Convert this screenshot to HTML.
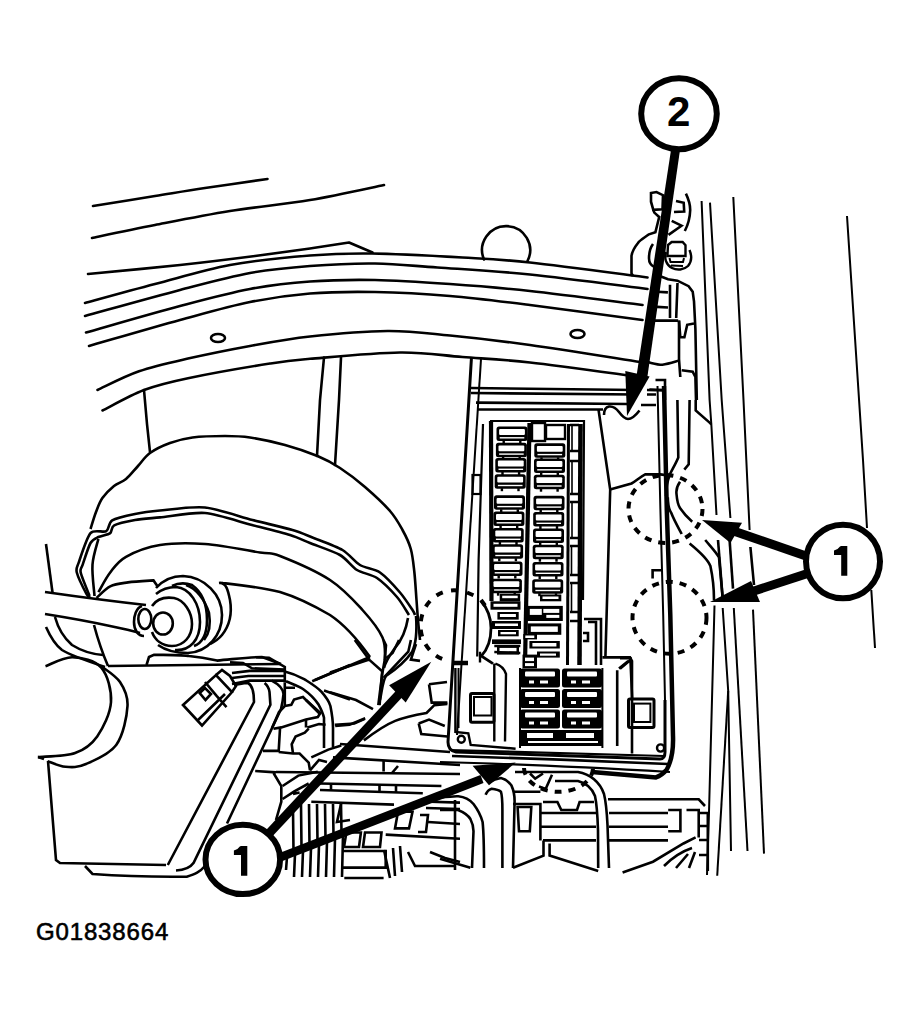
<!DOCTYPE html>
<html><head><meta charset="utf-8">
<style>
html,body{margin:0;padding:0;background:#fff;width:920px;height:1016px;overflow:hidden}
svg{display:block;position:absolute;left:0;top:0}
.t{position:absolute;left:36px;top:920px;font-family:"Liberation Sans",sans-serif;font-size:24px;color:#000;letter-spacing:0.85px;-webkit-text-stroke:0.6px #000;line-height:1}
</style></head><body>
<svg width="920" height="1016" viewBox="0 0 920 1016">
<g fill="none" stroke="#000" stroke-width="2.6" stroke-linecap="round" stroke-linejoin="round">
<!-- COWL / TOP LINES -->
<path id="A" d="M93.0,206.0 C103.3,204.3 136.3,199.0 155.0,196.0 C173.7,193.0 186.2,190.8 205.0,188.0 C223.8,185.2 257.1,180.5 267.5,179.0"/>
<path id="B" d="M92.0,238.0 C102.5,235.8 132.0,229.5 155.0,225.0 C178.0,220.5 204.2,215.2 230.0,211.0 C255.8,206.8 284.3,204.3 310.0,200.0 C335.7,195.7 371.7,187.5 384.0,185.0"/>
<path id="C" d="M88.0,274.0 C103.3,272.5 152.2,268.0 180.0,265.0 C207.8,262.0 233.3,258.8 255.0,256.0 C276.7,253.2 294.3,250.8 310.0,248.5 C325.7,246.2 342.5,243.5 349.0,242.5 L372.5,252.5"/>
<path id="D" d="M85.0,303.0 C96.7,299.8 130.8,290.3 155.0,284.0 C179.2,277.7 204.2,269.8 230.0,265.0 C255.8,260.2 286.3,257.4 310.0,255.5 C333.7,253.6 346.6,253.2 372.0,253.5 C397.4,253.8 436.2,256.0 462.5,257.5 C488.8,259.0 499.2,259.2 530.0,262.5 C560.8,265.8 627.9,275.0 647.5,277.5"/>
<path id="E" d="M85.0,316.0 C100.8,311.7 152.5,297.2 180.0,290.0 C207.5,282.8 228.3,277.0 250.0,273.0 C271.7,269.0 289.2,267.6 310.0,266.0 C330.8,264.4 353.8,263.2 375.0,263.5 C396.2,263.8 411.7,265.7 437.5,267.5 C463.3,269.3 495.0,270.9 530.0,274.5 C565.0,278.1 627.9,286.6 647.5,289.0"/>
<path id="F" d="M86.0,332.5 C101.7,328.1 152.7,313.2 180.0,306.0 C207.3,298.8 228.3,293.1 250.0,289.0 C271.7,284.9 289.2,283.0 310.0,281.5 C330.8,280.0 351.7,279.6 375.0,280.0 C398.3,280.4 424.2,282.2 450.0,284.0 C475.8,285.8 497.9,287.5 530.0,291.0 C562.1,294.5 623.8,302.7 642.5,305.0"/>
<path id="G" d="M89.0,346.0 C104.2,341.7 153.2,327.3 180.0,320.0 C206.8,312.7 228.3,306.4 250.0,302.0 C271.7,297.6 289.2,295.2 310.0,293.5 C330.8,291.8 351.7,291.6 375.0,292.0 C398.3,292.4 424.2,293.8 450.0,296.0 C475.8,298.2 497.9,301.0 530.0,305.0 C562.1,309.0 623.8,317.5 642.5,320.0"/>
<path id="H" d="M97.5,390.0 C104.4,386.9 123.9,376.5 139.0,371.3 C154.1,366.1 169.5,362.8 188.0,358.6 C206.5,354.4 229.7,349.7 250.0,346.0 C270.3,342.3 287.1,339.0 310.0,336.5 C332.9,334.0 364.2,331.2 387.5,331.0 C410.8,330.8 426.2,333.2 450.0,335.5 C473.8,337.8 498.3,340.6 530.0,345.0 C561.7,349.4 621.7,359.2 640.0,362.0"/>
<path id="I" d="M102.5,410.5 C109.4,407.1 129.8,395.4 144.0,390.0 C158.2,384.6 167.0,382.6 188.0,378.2 C209.0,373.8 249.7,366.7 270.0,363.5 C290.3,360.3 288.3,360.6 310.0,358.8 C331.7,357.0 374.6,352.8 400.0,352.5 C425.4,352.2 440.8,355.3 462.5,357.0 C484.2,358.7 500.4,359.2 530.0,362.5 C559.6,365.8 621.7,374.6 640.0,377.0"/>
<ellipse cx="218" cy="338" rx="7" ry="4"/>
<ellipse cx="577.5" cy="334" rx="7" ry="4"/>
<!-- ball -->
<path d="M484,259.5 A24,24 0 1 1 527.5,261"/>
<!-- posts -->
<path d="M144,390 L147,424 L150,452"/>
<path d="M324,357.5 L320,400 L317,456"/>
<path d="M341,357.5 L339,400 L335,465"/>
</g>
<!-- BOOSTER DOME -->
<g id="dome" fill="none" stroke="#000" stroke-width="2.6">
<path d="M90.5,529.0 C91.4,526.2 94.0,517.2 96.0,512.0 C98.0,506.8 99.4,502.3 102.4,498.0 C105.4,493.7 110.1,489.2 114.0,486.0 C117.9,482.8 122.0,482.3 126.0,479.0 C130.0,475.7 134.0,470.3 138.0,466.0 C142.0,461.7 144.7,456.8 150.0,453.0 C155.3,449.2 162.9,445.6 170.0,443.0 C177.1,440.4 183.3,438.7 192.5,437.5 C201.7,436.3 215.4,436.0 225.0,436.0 C234.6,436.0 240.0,436.0 250.0,437.5 C260.0,439.0 273.8,441.9 285.0,445.0 C296.2,448.1 308.3,452.2 317.5,456.0 C326.7,459.8 332.1,462.8 340.0,468.0 C347.9,473.2 356.7,479.8 365.0,487.0 C373.3,494.2 383.8,503.8 390.0,511.0 C396.2,518.2 399.0,523.7 402.5,530.0 C406.0,536.3 408.8,541.9 410.8,549.0 C412.8,556.1 413.4,564.0 414.4,572.5 C415.3,581.0 415.9,592.1 416.5,600.0 C417.1,607.9 417.4,613.3 418.0,620.0 C418.6,626.7 419.7,636.7 420.0,640.0"/>
<path d="M90.5,598.0 C90.0,597.5 88.4,597.6 86.6,594.2 C84.8,590.8 77.9,576.7 76.8,572.5 C75.7,568.3 76.9,568.0 78.7,562.7 C80.5,557.4 86.8,537.3 90.5,533.1 C94.2,528.9 103.4,532.9 106.3,531.2 C109.2,529.5 108.4,522.7 112.2,520.4 C116.0,518.1 128.6,515.3 135.0,514.0 C141.4,512.7 150.7,511.4 160.0,510.5 C169.3,509.6 192.7,506.2 205.0,507.5 C217.3,508.8 240.8,517.0 252.5,520.0 C264.2,523.0 284.5,527.7 292.5,530.0 C300.5,532.3 305.8,534.8 312.5,537.5 C319.2,540.2 336.2,546.3 342.5,550.0 C348.8,553.7 355.0,562.0 360.0,565.0 C365.0,568.0 374.7,568.8 380.0,572.5 C385.3,576.2 395.7,587.5 400.0,592.5 C404.3,597.5 410.5,607.0 412.5,610.0 C414.5,613.0 414.7,614.3 415.0,615.0"/>
<path d="M89.6,596.0 C88.4,592.9 81.6,576.7 80.7,572.5 C79.8,568.3 81.4,568.5 82.7,564.6 C84.0,560.7 88.4,546.7 90.5,543.0 C92.6,539.3 95.8,538.3 98.4,537.0 C101.0,535.7 108.1,534.7 110.2,533.1 C112.3,531.5 110.9,527.0 114.2,525.3 C117.5,523.6 128.9,521.1 135.0,520.0 C141.1,518.9 150.7,518.3 160.0,517.4 C169.3,516.5 192.7,512.0 205.0,513.0 C217.3,514.0 240.7,522.1 252.0,525.0 C263.3,527.9 282.3,532.6 290.0,535.0 C297.7,537.4 303.3,540.3 310.0,543.0 C316.7,545.7 333.7,551.4 340.0,555.0 C346.3,558.6 352.1,566.9 357.0,570.0 C361.9,573.1 371.7,574.4 377.0,578.0 C382.3,581.6 392.7,592.1 397.0,597.0 C401.3,601.9 407.4,612.6 409.0,615.0"/>
<path d="M98.4,539.0 C97.4,543.3 93.2,555.1 92.5,564.6 C91.8,574.1 94.2,590.8 94.5,596.0"/>
<path d="M98.4,592.2 C100.4,588.9 105.6,578.4 110.2,572.5 C114.8,566.6 117.7,561.4 126.0,556.8 C134.3,552.2 146.8,547.1 160.0,545.0 C173.2,542.9 188.3,542.8 205.0,544.0 C221.7,545.2 247.5,550.5 260.0,552.5 C272.5,554.5 268.3,551.4 280.0,556.0 C291.7,560.6 316.2,571.0 330.0,580.0 C343.8,589.0 353.8,600.4 362.5,610.0 C371.2,619.6 378.8,629.2 382.5,637.5 C386.2,645.8 384.6,656.2 385.0,660.0"/>
<path d="M222,583 C240,585 260,587 280,592 C300,598 318,608 330,615 C345,625 358,640 370,657"/>
<path d="M408,618 C406,630 402,640 395,648 C390,655 386,660 384,668"/>
<path d="M416,616 C417,630 417,642 412,652 C405,662 395,670 386,676 C383,680 382,690 380,700"/>
<path d="M370,657 L315,680"/>
</g>
<!-- MASTER CYL / RESERVOIR -->
<g id="mc" fill="none" stroke="#000" stroke-width="2.6">
<path d="M46,544 L52.5,592.5"/>
<path d="M45,592 C80,597 110,601 146,605"/>
<path d="M45,614 C70,618 92,622 110,626 C120,628 130,630 140,633"/>
<path d="M96.5,598.0 C98.8,596.0 105.0,588.9 110.2,586.3 C115.5,583.7 120.8,583.4 128.0,582.4 C135.2,581.4 149.2,580.7 153.5,580.4 L157.5,586.3"/>
<ellipse cx="163" cy="623.5" rx="9.8" ry="11"/>
<path d="M152,606 C158,597 167,597 174,598 C184,600 192,612 192,624 C192,636 184,646 172,646 C162,646 155,640 152,632"/>
<path d="M156,594 C162,589 168,587 176,587 C190,588 200,604 200,622 C200,640 190,651 175,650"/>
<path d="M172,586 C180,582 186,583 192,585 C202,592 207,605 207,620 C207,635 202,643 194,646"/>
<path d="M186,585 C196,588 205,600 209,613 C211,625 209,634 204,640"/>
<path d="M156,588 C165,578 175,576 183,576 C205,577 222,595 222,615 C222,635 208,652 188,653 C175,653 165,650 158,645"/>
<path d="M219,583 C226,582 228,590 230,600 C232,612 230,625 222,635 C218,640 214,642 210,644"/>
<ellipse cx="144.8" cy="619" rx="6.5" ry="10"/>
<path d="M142,606 C136,608 134,616 134,622 C134,630 138,636 144,636"/>
<!-- small lines down-left -->
<path d="M46,627 C50,636 54,644 62,650 C70,655 90,662 105,667"/>
<path d="M55,617 C58,628 64,638 72,645 C80,650 90,654 103,655"/>
<path d="M94,625 C98,640 102,652 108,666"/>
<!-- cylinder arcs -->
<path d="M45.5,666.2 C50.0,664.7 63.1,657.0 72.4,657.2 C81.7,657.4 94.9,660.1 101.3,667.6 C107.7,675.1 111.7,690.5 111.0,702.0 C110.3,713.5 103.2,727.9 97.2,736.4 C91.2,744.9 85.0,749.5 75.1,753.0 C65.2,756.5 44.1,756.4 37.9,757.1"/>
<path d="M101.3,666.2 C104.4,668.8 115.6,675.4 120.0,682.0 C124.4,688.6 128.1,695.5 127.5,706.0 C126.9,716.5 123.3,735.0 116.4,744.7 C109.5,754.4 94.5,760.3 86.0,764.0 C77.5,767.7 71.9,767.3 65.5,766.8 C59.1,766.3 50.6,762.1 47.6,761.2"/>
<path d="M38,757 L44,759 M48,761 L56,860 L60,863 L166,865"/>
<path d="M108,666 L280,664"/>
<path d="M146.5,665 L149,657 L154,654.7 C170,655 185,655 189,656 C200,657 210,659 217,660.6 C235,659 250,657 262,657 L281,664"/>
<!-- reservoir slants -->
<path d="M234,685 C240,684 244,683 248,683 C252,685 254,690 254,702 L167.8,865"/>
<path d="M264.6,683 C267,685 269,688 269.5,692 L270.4,704.8 L193.5,863 C190,868 185,870 176,870.5"/>
<path d="M271.7,680.7 C278,684 283,688 283.5,694 C283,700 282,705 281,709 L227,823.5"/>
<path d="M85,866 L92.5,874 C120,876 160,877 186.7,876.7 C195,874 200,872 205,866"/>
<!-- connector -->
<path d="M183,705 L216,675 L232,692 L202,725.5 Z"/>
<path d="M205,682 L216.6,695.9 L226.5,707.2 M197,721 L225,694 M199.7,693 L205,688 L211,694 L205.5,700 Z"/>
<path d="M216,675 L222,670 L230,676 L236,686 L232,692"/>
<!-- hoses from connector -->
<path d="M230,662.4 L243,663 L252,668.3 L284.8,669.6"/>
<path d="M232,673 L249.6,670.9 L284.8,670.9"/>
<path d="M232,678 L248.3,676 L284.8,676"/>
<path d="M232,684 L249.6,680.6 L284.8,680.6"/>
<path d="M256,657.2 L269,657.8 L284.8,667 L284.8,682.6"/>
<path d="M284.8,671.5 C295,674 300,677 305.6,680 C312,684 318,688 321.3,691.7 C326,697 329,701 330.4,706 C332,714 333,720 333,728 L333,747"/>
<path d="M286,681.3 C292,684 298,686 303,689 C310,694 315,699 318.7,704.8 C321,709 323,713 324,717.8 L324,748"/>
<path d="M312.2,681.3 L350,665 M324,690.4 L350,699.6"/>
</g>
<!-- RIGHT SIDE -->
<g id="right" fill="none" stroke="#000" stroke-width="2.6">
<!-- fender lines -->
<path d="M701.6,201 L709.6,400 L711.3,424 L716.5,515" stroke-width="2"/>
<path d="M710,202.6 L721.7,400 L730.4,518" stroke-width="2"/>
<path d="M733.3,197 L743.5,400 L749.6,530" stroke-width="2"/>
<path d="M847,216 L863,460 L867,528" stroke-width="2"/>
<path d="M871.3,590 L875,648" stroke-width="2"/>
<path d="M695.7,400 L695.7,410.4 L709.6,422.6 L711.3,424.3"/>
<!-- lines below right arrows -->
<path d="M689.6,543.5 C700,552 708,560 710.4,566 C713,578 714,590 714,600"/>
<path d="M705.2,540 C712,548 716,552 719,557.4 L722.6,597.4"/>
<path d="M718,540 L722.6,597"/>
<path d="M729.6,540 L733,588.7"/>
<path d="M750.4,547 L754,585"/>
<path d="M714.5,605.5 L709,812 L707,875" stroke-width="2"/>
<path d="M722.7,608 L728.2,691 L731,851" stroke-width="2"/>
<path d="M728.2,691 L717.2,875.7" stroke-width="2"/>
<path d="M733.8,608 L747.5,851" stroke-width="2"/>
<path d="M753,609.6 L764,853.6" stroke-width="2"/>
<!-- cable S-curves right of housing -->
<path d="M677.4,400 L678.3,457.4 C676,463 673,468 670,474 C667,482 666,490 666,496"/>
<path d="M689.6,400 L688.7,464.3 L684.3,469.6"/>
<path d="M680,481.7 C677,486 676,490 676.5,494 C677,500 678,505 680,508 C684,514 688,518 692.2,521.7"/>
<path d="M667.8,497.4 C668,505 669,510 671.3,513 C674,520 678,527 681.7,534"/>
<!-- housing right edge -->
<path d="M657.5,386 L660.4,510 L663.2,615 L665,700" stroke-width="2"/>
<path d="M664,386 L666.8,510 L670.3,615 L673,736 C673.5,750 671,762 666.5,770 C663,774 660,776 656,777.4 L592,772" stroke-width="4.5"/>
<path d="M652.6,578.5 L652.6,570.3 L661.5,570.3"/>
<path d="M620,658.3 L630.4,658.3 L632.2,700 M620,668.7 L630.4,660"/>
<!-- hinge bracket -->
<path d="M651,193 L656.5,192 L663,195.2 L662.5,209.3 L653.3,209.9 L651,201.7 Z"/>
<path d="M653.3,209.9 L654.3,212.6 L659.2,217 L655.4,232.2 L649,234.3 C644,238 640,240 638,243 C634,248 632,252 631.5,256 L631.5,273.5 L633,276"/>
<path d="M653,244 C650,248 649,254 649,258.3 C649,262 650,265 654.3,267"/>
<path d="M676,201 L683.7,202.8 L684.2,211.5 L674,212"/>
<path d="M671.7,220.8 L681.5,225.7 L668.5,234.9"/>
<path d="M685.9,193.6 C689,200 690.2,205 690.2,210 C690,217 689,223 684.8,231"/>
<path d="M666,252 C664,258 666,265 672,268 C677,270.5 684,270 688,266 C691.5,262 692,256 689.5,250" stroke-width="2.4"/>
<path d="M668,245 L671.7,242 L682.6,242 L685.5,245.2 L685.5,256 L667.4,256 Z" stroke-width="2.4"/>
<path d="M669.5,258 L670.5,262 L683,262 L684,258 M671,265.5 L683,266" stroke-width="2"/>
<!-- plate below bolt -->
<path d="M661,276.5 L668,279.3 L677.5,280.7 L688.6,286.2 L692.7,291.7 L694,301.3 L695.4,329 L696.8,400"/>
<path d="M677.5,283 L676.2,318 M670,284.8 L670,318"/>
<path d="M656.9,291.7 L667.9,292.4 M656.9,306.9 L668,307.5 M654,320.6 L678.2,320.6"/>
<path d="M679,320.6 L680.3,337.2 L684.4,337.2 L687.2,324.8 L694,323.4"/>
<path d="M679,320.6 L679,359.2 L680.3,377"/>
<path d="M647.2,362 C652,363 657,364.7 662.4,364.7 C668,364 674,362 679,360.6"/>
<path d="M681.7,370.3 L692.7,371.6 L695.4,377 L696,400"/>
<path d="M655.5,380 L665,380 L665,400 M649.3,389.5 L665,390"/>
<!-- hook under arrow tip -->
<path d="M604,415 C604,410 606,407 609,406.5 C613,406 616,408 619,412 C622,416 625,419 628,419 C632,419 636,415 639.5,410.5" stroke-width="2.6"/>
<!-- dashed circles -->
<g stroke-width="4" stroke-dasharray="7 7" stroke-linecap="butt">
<ellipse cx="665.5" cy="509" rx="37" ry="34"/>
<ellipse cx="669.5" cy="617.8" rx="37" ry="36"/>
<path d="M458,590.5 A33,35 0 0 0 450,661" stroke-dasharray="7 8.5"/>
<path d="M467,592.5 L474,595.5 M481,600 L485,605.5"/>
<path d="M524,768 A34,24 0 0 0 593,767"/>
</g>
</g>
<!-- LOWER REGION -->
<g id="lower" fill="none" stroke="#000" stroke-width="2.6">
<!-- casting shapes -->
<path d="M284.8,682.6 L284.8,706 L291.3,704.8 L294,699.6 L303,697 L320,714 M284.8,687.8 L295,687.8 M284.8,706 L279,712 L272,728"/>
<path d="M273.5,728.7 L281.3,727.4 L306,719.6 L317.8,717 L320.4,713 L306,700"/>
<path d="M306,719.6 L306,727.4 M307.4,727.4 L319,724 L325.6,724.8"/>
<path d="M280,728.7 L278.7,750.9 L263,750.9"/>
<path d="M278.7,752 L293,753.5 L299.6,753.5 L308.7,762.6 L310,770.4"/>
<path d="M293,753.5 L291.7,744.3 L295.6,736.5 L304.8,732.6 L308.7,728.7"/>
<path d="M273.5,773 L281.3,786 L281.3,801.7 L276,820"/>
<path d="M282.6,786 L298.3,775.6 L317.8,771.7"/>
<path d="M282.6,799 L294.3,791.3 L308.7,783.5 M293,794 L299.6,792.6"/>
<path d="M310,770.4 L319,760 L327,762"/>
<path d="M311.3,757.4 L328.3,749.6 L341.3,745.6"/>
<path d="M334.8,724.8 L354.3,723.5 L364.8,718.9"/>
<path d="M330,672.6 L369.1,659.6 L354.8,640 M369.1,659.6 L382.2,671.3 L379.6,705.2"/>
<path d="M383.5,640 L386,645.2 L384.8,659.6 L382.2,674 L378.3,705.2"/>
<path d="M399,640 L392.6,653 L386,658.3 M410.9,640 L408.3,651.7 L383.5,677.8 M416,644 L410.9,659.6 L420,660.9"/>
<path d="M330,692.2 L356,700 L373,709.1"/>
<path d="M335.2,726 L349.6,724.8 L365.2,718.3"/>
<path d="M363.9,740.4 C375,732 385,725 395.2,720.9 C405,717 415,715 426.5,713 L434.3,705.2 L447.4,703.9"/>
<path d="M429,684.3 L431.7,702.6 L447.4,702.6 M429,684.3 L447,682"/>
<path d="M418.7,723.5 L421.3,734 L447.4,736.5 M418.7,723.5 L429,719.6 L444.8,726"/>
<path d="M255.2,771 L276,772.4"/>
<!-- horizontal rails -->
<path d="M340,744 L450,752"/>
<path d="M333,757.4 L460,765"/>
<path d="M276,772 L460,774"/>
<path d="M320,783.5 L441.4,786"/>
<path d="M320,790 L422.8,793.3"/>
<path d="M311.3,801.7 L394,804.6"/>
<path d="M383.6,761 L383.6,771.6 M398,766 L392,773 M379.5,785 L379.5,791.2 M396,785 L396,792.2 M331,784 L331,791"/>
<path d="M422.8,801.5 L460,802.6 M426,808 L460,809 M428,822 L460,824 M385.7,834.6 L460,838.7"/>
<path d="M398,811.8 L412.5,811.8 L409,828.4 L395,828.4 Z"/>
<path d="M420,815 L428,815 L426,832 L418,832"/>
<path d="M346.4,832.5 L360.9,832.5 L359,847 L344,847 Z M365,832.5 L381.5,832.5 L380,847 L363,847 Z"/>
<path d="M342.3,851 L385.7,851 L385.7,867.6 L342.3,867.6"/>
<path d="M344.3,878 L383.6,878"/>
<path d="M384,850 L390,878 M393,848 L395,876 M400,846 L402,872"/>
<path d="M408,852 L415,866 L455,866 M430,852 L445,858 L460,862"/>
<path d="M455,800 L455,870"/>
<!-- comb between arrows -->
<path d="M293,809.4 L293.5,850.7 M301,804.0 L301.5,847.6 M309,804.0 L309.5,844.5 M317,804.0 L317.5,841.4 M325,804.0 L325.5,838.2 M333,804.0 L333.5,835.1 M341,804.0 L341.5,832.0"/>
<path d="M287,857.0 L286,870 M295,853.9 L294,877 M303,850.8 L302,877 M311,847.7 L310,877 M319,844.6 L318,877 M327,841.5 L326,877 M335,838.3 L334,877 M343,835.2 L342,877"/>
<path d="M341,804 L337,822 L350,820"/>
<!-- below fuse box: hoses -->
<path d="M440,797.8 C450,796.5 455,796 458.3,796.3 C465,797 470,800 473.5,804 C478,810 481,816 482.6,822 C484,835 484,850 484,868"/>
<path d="M440,810 L458,810 C463,812 468,815 470.4,819 C472.5,823 473.5,827 473.5,831.3 L472,868"/>
<path d="M488.7,782.6 C493,780 497,778.5 500.9,778 C505,779 509,782 511.5,785.6 C513.5,790 514.6,795 514.6,801 L513,868"/>
<path d="M485.6,794.8 C487,791 489,789.5 491.7,788.7 C495,789 499,790 500.9,791.7 C502,795 502.4,800 502.4,810 L502.4,868"/>
<path d="M515,772 L578,772 C590,774 600,782 604,794 C606,802 607,815 607.5,825 L609,868"/>
<path d="M555,781 L578,781 C586,783 592,788 595,796 C597,805 597.5,815 598,830 L598.2,868"/>
<!-- housing bottom outer -->

<!-- heart shapes under fuse box -->
<path d="M530,773.5 L535.2,778.7 L543,773.5 M539,786.5 L545.6,789 L552,774.8 M543,802 L557.4,802 L561.3,810 L577,810 L579.6,802 L594,802"/>
<!-- horizontal bars -->
<path d="M608,799.3 L698.7,799.3 L705,806"/>
<path d="M513,791.7 L540.4,791.7 M513,804 L540.4,804 L540.4,840.4"/>
<path d="M540.4,813 L596,813 M609,813 L668,813"/>
<path d="M540.4,826.7 L596,826.7 M609,826.7 L668,826.7"/>
<path d="M543,840.4 L596,840.4 M609,840.4 L668,840.4"/>
<path d="M517.6,807 L531.3,807 L529.8,831.3 L519,831.3 Z"/>
<path d="M668.2,810 L680.4,810 L680.4,831.3 L668.2,831.3 M686.5,810 L698.7,810 L698.7,837.4"/>
<path d="M440,858.7 L470.4,867.8"/>
<path d="M513,867.8 L543.5,855.6 L543.5,840.4 M549.6,843.5 L549.6,855.6 L598.2,870.9"/>
<path d="M622.6,872.4 L653,861.7 L683.5,843.5 L695.6,837.4"/>
<path d="M664,866 C672,858 680,852 692,848 M676,868 L688,854 M689,868 L695,852"/>
<path d="M698.7,813 L707.8,813 L707.8,870.9 M699,826 L707,826 M699,840 L707,840 M699,855 L707,855"/>
</g>
<!--FUSE--><g id="fusebox" fill="none" stroke="#000" stroke-width="2.6">
<path d="M471.5,357 L448,742 C448,748 451,751 456,752 L660,759 C663,759 665,757 665,752 L665,700" stroke-width="3"/>
<path d="M481,359 L457,735" stroke-width="2"/>
<path d="M471,388 L636,390 M471,393 L636,394.5 M647,390 L666,390.5 M647,394.5 L656,394.5"/>
<path d="M476,402.6 L627,404 M641,405 L656,405"/>
<path d="M478,409.5 L599,409.5 L603,409.5"/>
<path d="M598.5,409.5 L610.2,489.6 L605.4,657.4"/>
<path d="M610,489.6 L631.5,483.5 C636,481 640,477 645.2,474.4 L660.4,474.4 L672,476"/>
<path d="M490,421 L584,421 L583,600" stroke-width="2.2"/>
<path d="M483,424 L478.6,560 L477.2,656.5" stroke-width="2.2"/>
<path d="M491,421 L491.5,601" stroke-width="4.2"/>
<path d="M529.5,423 L525,666" stroke-width="4.2"/>
<path d="M568.5,424 L567.5,665" stroke-width="3"/>
<path d="M580.5,424 L579.5,665" stroke-width="4.5"/>
<path d="M570,425 L579,425 M570,451 L579,451 M570,461 L579,461 M570,494 L579,494 M570,502 L579,502 M570,538 L579,538 M570,546 L579,546 M570,575 L579,575 M570,583 L579,583 M570,612 L579,612 M570,621 L579,621" stroke-width="2.4"/>
<path d="M572,425 L572,451 M572,461 L572,494 M572,502 L572,538 M571.5,546 L571.5,575 M571.5,583 L571.5,612" stroke-width="1.6"/>
<path d="M584,619 L601,619 L601,665 M588,622 L596,622 L596,665 M583,633 L588,633 L588,641 L583,641"/>
<rect x="472.5" y="475" width="8" height="19" stroke-width="2.2"/>
<rect x="496.5" y="426.5" width="31" height="14.5" rx="2.5" fill="#000" stroke="none"/>
<rect x="499.1" y="429.1" width="25.8" height="5.8" rx="1" fill="#fff" stroke="none"/>
<rect x="499.7" y="437.1" width="24.6" height="1.4" fill="#fff" stroke="none"/>
<rect x="502.5" y="440.5" width="2.4" height="3" fill="#000" stroke="none"/><rect x="519.1" y="440.5" width="2.4" height="3" fill="#000" stroke="none"/>
<rect x="495.9" y="442.8" width="31" height="14.5" rx="2.5" fill="#000" stroke="none"/>
<rect x="498.5" y="445.4" width="25.8" height="5.8" rx="1" fill="#fff" stroke="none"/>
<rect x="499.1" y="453.4" width="24.6" height="1.4" fill="#fff" stroke="none"/>
<rect x="501.9" y="456.8" width="2.4" height="3" fill="#000" stroke="none"/><rect x="518.5" y="456.8" width="2.4" height="3" fill="#000" stroke="none"/>
<rect x="534.3" y="443.3" width="31" height="14.5" rx="2.5" fill="#000" stroke="none"/>
<rect x="536.9" y="445.9" width="25.8" height="5.8" rx="1" fill="#fff" stroke="none"/>
<rect x="537.5" y="453.9" width="24.6" height="1.4" fill="#fff" stroke="none"/>
<rect x="540.3" y="457.3" width="2.4" height="3" fill="#000" stroke="none"/><rect x="556.9" y="457.3" width="2.4" height="3" fill="#000" stroke="none"/>
<rect x="495.3" y="458.0" width="31" height="14.5" rx="2.5" fill="#000" stroke="none"/>
<rect x="497.9" y="460.6" width="25.8" height="5.8" rx="1" fill="#fff" stroke="none"/>
<rect x="498.5" y="468.6" width="24.6" height="1.4" fill="#fff" stroke="none"/>
<rect x="501.3" y="472.0" width="2.4" height="3" fill="#000" stroke="none"/><rect x="517.9" y="472.0" width="2.4" height="3" fill="#000" stroke="none"/>
<rect x="534.0" y="458.5" width="31" height="14.5" rx="2.5" fill="#000" stroke="none"/>
<rect x="536.6" y="461.1" width="25.8" height="5.8" rx="1" fill="#fff" stroke="none"/>
<rect x="537.2" y="469.1" width="24.6" height="1.4" fill="#fff" stroke="none"/>
<rect x="540.0" y="472.5" width="2.4" height="3" fill="#000" stroke="none"/><rect x="556.6" y="472.5" width="2.4" height="3" fill="#000" stroke="none"/>
<rect x="494.7" y="474.2" width="31" height="14.5" rx="2.5" fill="#000" stroke="none"/>
<rect x="497.3" y="476.8" width="25.8" height="5.8" rx="1" fill="#fff" stroke="none"/>
<rect x="497.9" y="484.8" width="24.6" height="1.4" fill="#fff" stroke="none"/>
<rect x="500.7" y="488.2" width="2.4" height="3" fill="#000" stroke="none"/><rect x="517.3" y="488.2" width="2.4" height="3" fill="#000" stroke="none"/>
<rect x="533.8" y="474.7" width="31" height="14.5" rx="2.5" fill="#000" stroke="none"/>
<rect x="536.4" y="477.3" width="25.8" height="5.8" rx="1" fill="#fff" stroke="none"/>
<rect x="537.0" y="485.3" width="24.6" height="1.4" fill="#fff" stroke="none"/>
<rect x="539.8" y="488.7" width="2.4" height="3" fill="#000" stroke="none"/><rect x="556.4" y="488.7" width="2.4" height="3" fill="#000" stroke="none"/>
<rect x="494.0" y="495.3" width="31" height="14.5" rx="2.5" fill="#000" stroke="none"/>
<rect x="496.6" y="497.9" width="25.8" height="5.8" rx="1" fill="#fff" stroke="none"/>
<rect x="497.2" y="505.9" width="24.6" height="1.4" fill="#fff" stroke="none"/>
<rect x="500.0" y="509.3" width="2.4" height="3" fill="#000" stroke="none"/><rect x="516.6" y="509.3" width="2.4" height="3" fill="#000" stroke="none"/>
<rect x="533.5" y="495.8" width="31" height="14.5" rx="2.5" fill="#000" stroke="none"/>
<rect x="536.1" y="498.4" width="25.8" height="5.8" rx="1" fill="#fff" stroke="none"/>
<rect x="536.7" y="506.4" width="24.6" height="1.4" fill="#fff" stroke="none"/>
<rect x="539.5" y="509.8" width="2.4" height="3" fill="#000" stroke="none"/><rect x="556.1" y="509.8" width="2.4" height="3" fill="#000" stroke="none"/>
<rect x="493.4" y="511.5" width="31" height="14.5" rx="2.5" fill="#000" stroke="none"/>
<rect x="496.0" y="514.1" width="25.8" height="5.8" rx="1" fill="#fff" stroke="none"/>
<rect x="496.6" y="522.1" width="24.6" height="1.4" fill="#fff" stroke="none"/>
<rect x="499.4" y="525.5" width="2.4" height="3" fill="#000" stroke="none"/><rect x="516.0" y="525.5" width="2.4" height="3" fill="#000" stroke="none"/>
<rect x="533.2" y="512.0" width="31" height="14.5" rx="2.5" fill="#000" stroke="none"/>
<rect x="535.8" y="514.6" width="25.8" height="5.8" rx="1" fill="#fff" stroke="none"/>
<rect x="536.4" y="522.6" width="24.6" height="1.4" fill="#fff" stroke="none"/>
<rect x="539.2" y="526.0" width="2.4" height="3" fill="#000" stroke="none"/><rect x="555.8" y="526.0" width="2.4" height="3" fill="#000" stroke="none"/>
<rect x="492.7" y="528.0" width="31" height="14.5" rx="2.5" fill="#000" stroke="none"/>
<rect x="495.3" y="530.6" width="25.8" height="5.8" rx="1" fill="#fff" stroke="none"/>
<rect x="495.9" y="538.6" width="24.6" height="1.4" fill="#fff" stroke="none"/>
<rect x="498.7" y="542.0" width="2.4" height="3" fill="#000" stroke="none"/><rect x="515.3" y="542.0" width="2.4" height="3" fill="#000" stroke="none"/>
<rect x="533.0" y="528.5" width="31" height="14.5" rx="2.5" fill="#000" stroke="none"/>
<rect x="535.6" y="531.1" width="25.8" height="5.8" rx="1" fill="#fff" stroke="none"/>
<rect x="536.2" y="539.1" width="24.6" height="1.4" fill="#fff" stroke="none"/>
<rect x="539.0" y="542.5" width="2.4" height="3" fill="#000" stroke="none"/><rect x="555.6" y="542.5" width="2.4" height="3" fill="#000" stroke="none"/>
<rect x="492.1" y="544.2" width="31" height="14.5" rx="2.5" fill="#000" stroke="none"/>
<rect x="494.7" y="546.8" width="25.8" height="5.8" rx="1" fill="#fff" stroke="none"/>
<rect x="495.3" y="554.8" width="24.6" height="1.4" fill="#fff" stroke="none"/>
<rect x="498.1" y="558.2" width="2.4" height="3" fill="#000" stroke="none"/><rect x="514.7" y="558.2" width="2.4" height="3" fill="#000" stroke="none"/>
<rect x="532.7" y="544.7" width="31" height="14.5" rx="2.5" fill="#000" stroke="none"/>
<rect x="535.3" y="547.3" width="25.8" height="5.8" rx="1" fill="#fff" stroke="none"/>
<rect x="535.9" y="555.3" width="24.6" height="1.4" fill="#fff" stroke="none"/>
<rect x="538.7" y="558.7" width="2.4" height="3" fill="#000" stroke="none"/><rect x="555.3" y="558.7" width="2.4" height="3" fill="#000" stroke="none"/>
<rect x="491.5" y="561.5" width="31" height="14.5" rx="2.5" fill="#000" stroke="none"/>
<rect x="494.1" y="564.1" width="25.8" height="5.8" rx="1" fill="#fff" stroke="none"/>
<rect x="494.7" y="572.1" width="24.6" height="1.4" fill="#fff" stroke="none"/>
<rect x="497.5" y="575.5" width="2.4" height="3" fill="#000" stroke="none"/><rect x="514.1" y="575.5" width="2.4" height="3" fill="#000" stroke="none"/>
<rect x="532.5" y="562.0" width="31" height="14.5" rx="2.5" fill="#000" stroke="none"/>
<rect x="535.1" y="564.6" width="25.8" height="5.8" rx="1" fill="#fff" stroke="none"/>
<rect x="535.7" y="572.6" width="24.6" height="1.4" fill="#fff" stroke="none"/>
<rect x="538.5" y="576.0" width="2.4" height="3" fill="#000" stroke="none"/><rect x="555.1" y="576.0" width="2.4" height="3" fill="#000" stroke="none"/>
<rect x="490.9" y="578.7" width="31" height="14.5" rx="2.5" fill="#000" stroke="none"/>
<rect x="493.5" y="581.3" width="25.8" height="5.8" rx="1" fill="#fff" stroke="none"/>
<rect x="494.1" y="589.3" width="24.6" height="1.4" fill="#fff" stroke="none"/>
<rect x="496.9" y="592.7" width="2.4" height="3" fill="#000" stroke="none"/><rect x="513.5" y="592.7" width="2.4" height="3" fill="#000" stroke="none"/>
<rect x="532.2" y="579.2" width="31" height="14.5" rx="2.5" fill="#000" stroke="none"/>
<rect x="534.8" y="581.8" width="25.8" height="5.8" rx="1" fill="#fff" stroke="none"/>
<rect x="535.4" y="589.8" width="24.6" height="1.4" fill="#fff" stroke="none"/>
<rect x="538.2" y="593.2" width="2.4" height="3" fill="#000" stroke="none"/><rect x="554.8" y="593.2" width="2.4" height="3" fill="#000" stroke="none"/>
<rect x="532" y="423" width="13" height="18" stroke-width="2.4"/>
<rect x="546" y="425" width="19" height="14" stroke-width="2.4"/>
<rect x="499.7" y="593.7" width="20.5" height="7.6" fill="#000" stroke="none"/>
<rect x="502.2" y="595.7" width="15.5" height="2.5" fill="#fff" stroke="none"/>
<rect x="490.5" y="601.3" width="30" height="8.4" fill="#000" stroke="none"/>
<rect x="493.5" y="603.8" width="24" height="3" fill="#fff" stroke="none"/>
<rect x="497.4" y="612" width="21.3" height="7.6" fill="#000" stroke="none"/>
<rect x="499.9" y="614" width="16" height="3" fill="#fff" stroke="none"/>
<rect x="492" y="621" width="29" height="8" fill="#000" stroke="none"/>
<rect x="495" y="623.5" width="23" height="2.5" fill="#fff" stroke="none"/>
<rect x="498" y="630" width="20.7" height="6.3" fill="#000" stroke="none"/>
<rect x="500.5" y="632" width="15.5" height="2.3" fill="#fff" stroke="none"/>
<rect x="492" y="639.4" width="29" height="4.6" fill="#000" stroke="none"/>
<rect x="497" y="645.4" width="22" height="9.2" fill="#000" stroke="none"/>
<rect x="499.5" y="647.9" width="17" height="3.5" fill="#fff" stroke="none"/>
<rect x="540" y="594.5" width="21.3" height="6.8" fill="#000" stroke="none"/>
<rect x="542.5" y="596.5" width="16" height="2.5" fill="#fff" stroke="none"/>
<rect x="526.3" y="605.9" width="36.5" height="15.1" fill="#000" stroke="none"/>
<rect x="529.8" y="608.9" width="12" height="6" fill="#fff" stroke="none"/>
<rect x="543.3" y="608.9" width="16" height="4" fill="#fff" stroke="none"/>
<rect x="546.3" y="614.9" width="13" height="3" fill="#fff" stroke="none"/>
<rect x="527.8" y="623.4" width="33.5" height="11.4" fill="#000" stroke="none"/>
<rect x="530.8" y="626.4" width="27" height="5.5" fill="#fff" stroke="none"/>
<rect x="523.3" y="634" width="13.7" height="5.4" fill="#000" stroke="none"/>
<rect x="525.3" y="635.5" width="9" height="2.5" fill="#fff" stroke="none"/>
<rect x="529.4" y="641" width="30.4" height="7.5" fill="#000" stroke="none"/>
<rect x="532.4" y="643" width="24" height="3.5" fill="#fff" stroke="none"/>
<rect x="537" y="651.5" width="22.8" height="6.1" fill="#000" stroke="none"/>
<rect x="540" y="653.5" width="16" height="2.2" fill="#fff" stroke="none"/>
<rect x="522.5" y="654.6" width="14.5" height="13.7" fill="#000" stroke="none"/>
<rect x="525.0" y="657.6" width="9" height="3.5" fill="#fff" stroke="none"/>
<rect x="525.0" y="663.1" width="9" height="3" fill="#fff" stroke="none"/>
<path d="M481.3,601 C487,608 491,616 491,628 C491,640 487,650 481.3,656 L493,663.6" stroke-width="2.8"/>
<path d="M495.5,663.6 C500,665 504,668 506,674 L505,741.6 M494.3,663.6 L494.3,741.6" stroke-width="2.4"/>
<path d="M480,651.8 L480,662.4 M494.3,646 L520.3,646 M494.3,652 L520.3,653" stroke-width="2.4"/>
<path d="M453,663 L468,663" stroke-width="4.5"/>
<path d="M455.4,668 L455.4,732 L468.3,733.3 L470.7,745 L515.6,748.7" stroke-width="2.4"/>
<path d="M458.5,668 L458.5,728" stroke-width="2"/>
<rect x="470.5" y="693.5" width="23.5" height="28.8" rx="1.5" stroke-width="3"/><rect x="474" y="697" width="17.5" height="18.5" stroke-width="2"/>
<circle cx="461.3" cy="739.2" r="3.5" stroke-width="2.4"/>
<rect x="520" y="668.5" width="40" height="19" rx="2.5" fill="#000" stroke="none"/>
<rect x="525" y="671.5" width="30" height="5" rx="1" fill="#fff" stroke="none"/>
<rect x="529" y="680.5" width="5" height="3" fill="#fff" stroke="none"/><rect x="540" y="680.5" width="8" height="3" fill="#fff" stroke="none"/>
<rect x="562" y="668.5" width="40" height="19" rx="2.5" fill="#000" stroke="none"/>
<rect x="567" y="671.5" width="30" height="5" rx="1" fill="#fff" stroke="none"/>
<rect x="571" y="680.5" width="5" height="3" fill="#fff" stroke="none"/><rect x="582" y="680.5" width="8" height="3" fill="#fff" stroke="none"/>
<rect x="520" y="689" width="40" height="19" rx="2.5" fill="#000" stroke="none"/>
<rect x="525" y="692" width="30" height="5" rx="1" fill="#fff" stroke="none"/>
<rect x="529" y="701" width="5" height="3" fill="#fff" stroke="none"/><rect x="540" y="701" width="8" height="3" fill="#fff" stroke="none"/>
<rect x="562" y="689" width="40" height="19" rx="2.5" fill="#000" stroke="none"/>
<rect x="567" y="692" width="30" height="5" rx="1" fill="#fff" stroke="none"/>
<rect x="571" y="701" width="5" height="3" fill="#fff" stroke="none"/><rect x="582" y="701" width="8" height="3" fill="#fff" stroke="none"/>
<rect x="520" y="709.5" width="40" height="19" rx="2.5" fill="#000" stroke="none"/>
<rect x="525" y="712.5" width="30" height="5" rx="1" fill="#fff" stroke="none"/>
<rect x="529" y="721.5" width="5" height="3" fill="#fff" stroke="none"/><rect x="540" y="721.5" width="8" height="3" fill="#fff" stroke="none"/>
<rect x="562" y="709.5" width="40" height="19" rx="2.5" fill="#000" stroke="none"/>
<rect x="567" y="712.5" width="30" height="5" rx="1" fill="#fff" stroke="none"/>
<rect x="571" y="721.5" width="5" height="3" fill="#fff" stroke="none"/><rect x="582" y="721.5" width="8" height="3" fill="#fff" stroke="none"/>
<rect x="520" y="730" width="82" height="16" fill="#000" stroke="none"/><rect x="527" y="733" width="26" height="5" fill="#fff" stroke="none"/><rect x="566" y="733" width="28" height="5" fill="#fff" stroke="none"/><rect x="528" y="741" width="70" height="2" fill="#fff" stroke="none"/>
<path d="M520,668 L520,748 M602.4,668 L602.4,748" stroke-width="2"/>
<path d="M602.4,657.4 L630,657.4 L632,661 L632,753.5 M619,668.5 L628.3,661 M617.2,670.3 L617.2,746"/>
<rect x="628.5" y="699" width="25.5" height="28.5" rx="1.5" stroke-width="3"/><rect x="634" y="703.6" width="16.4" height="18.4" stroke-width="2"/>
<circle cx="660.6" cy="748" r="3.6" stroke-width="2.4"/>
<path d="M450,750 L664,756" stroke-width="2.2"/>
<path d="M440,762 C520,764 600,768 670,772" stroke-width="2.2"/>
<path d="M452,756 C520,758 600,761 668,764"/>
</g><!--/FUSE-->
<!-- CALLOUTS -->
<g id="callouts">
<g fill="#fff" stroke="#000" stroke-width="6">
<ellipse cx="679" cy="113.7" rx="37.8" ry="35.5"/>
<ellipse cx="843" cy="561.5" rx="37" ry="36.8"/>
<ellipse cx="242.8" cy="859.4" rx="37.3" ry="34.7"/>
</g>
<g fill="#000" stroke="none">
<polygon points="671,150 680,150 647.5,376 636.5,376"/>
<polygon points="625.3,371 649.6,376.4 627,416"/>
<polygon points="702,520 742,522.7 730.5,543"/>
<polygon points="710,602 760,602 751,581"/>
<polygon points="431.3,661.7 389.1,685.2 405.7,702.6"/>
<polygon points="515.7,762.6 472.6,765.7 489,785.2"/>
</g>
<g fill="none" stroke="#000" stroke-linecap="butt">
<line x1="806" y1="556" x2="735" y2="531.5" stroke-width="9"/>
<line x1="806" y1="574" x2="754" y2="591" stroke-width="9"/>
<line x1="268.5" y1="834" x2="401" y2="692" stroke-width="9"/>
<line x1="281" y1="857" x2="482" y2="779" stroke-width="8.5"/>
</g>
<g fill="#000" stroke="none">
<polygon points="841.2,545.9 847.3,545.9 847.3,575.8 841.2,575.8 841.2,555 834,555 834,550.4 837.5,549 840,546.5"/>
<polygon points="241,845.9 247.3,845.9 247.3,875.8 241,875.8 241,855 233.9,855 233.9,850.4 237.4,849 239.8,846.5"/>
</g>
<g font-family="Liberation Sans, sans-serif" font-weight="bold" font-size="42" fill="#000" text-anchor="middle">
<text x="678.8" y="125.8">2</text>

</g>
</g>
</svg>
<div class="t">G01838664</div>
</body></html>
